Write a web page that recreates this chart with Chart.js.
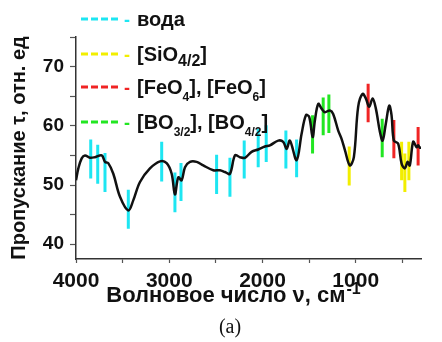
<!DOCTYPE html>
<html>
<head>
<meta charset="utf-8">
<script src="https://cdn.jsdelivr.net/npm/chart.js@4/dist/chart.umd.min.js"></script>
<style>
    html, body { margin: 0; padding: 0; background: #fff; }
    canvas { display: block; }
</style>
</head>
<body>
<canvas id="myChart" width="442" height="342"></canvas>
<script>
// IR transmission spectrum
const wavenumber = [4000, 3975, 3939, 3904, 3850, 3796, 3724, 3689, 3654, 3600, 3528, 3439, 3386, 3314, 3207, 3099,
    3028, 2974, 2939, 2903, 2867, 2831, 2778, 2706, 2635, 2528, 2456, 2403, 2349, 2295, 2242, 2188, 2117, 2046, 1974,
    1920, 1831, 1778, 1741, 1706, 1634, 1580, 1534, 1499, 1462, 1438, 1402, 1366, 1331, 1277, 1242, 1188, 1152, 1116,
    1063, 1020, 974, 927, 891, 856, 819, 784, 741, 712, 677, 641, 616, 591, 545, 508, 473, 444, 420, 384, 348, 331, 312, 300]
const transmission = [50.8, 52.8, 54.5, 55.0, 54.6, 54.7, 55.0, 53.9, 53.7, 51.9, 48.0, 45.7, 47.4, 50.5, 52.8, 54.0,
    53.7, 51.9, 48.4, 51.3, 50.8, 53.0, 53.9, 53.9, 53.3, 52.5, 52.5, 52.2, 51.9, 55.0, 54.7, 54.6, 55.6, 56.0, 56.5,
    56.7, 57.5, 57.3, 56.1, 57.5, 54.2, 58.7, 61.8, 61.5, 58.1, 60.9, 63.7, 62.9, 62.3, 62.6, 62.0, 59.2, 57.8, 55.9,
    53.3, 54.7, 63.2, 65.4, 64.6, 63.2, 64.6, 62.9, 59.0, 57.5, 60.4, 63.4, 61.8, 57.5, 57.0, 53.6, 52.8, 53.9, 53.3,
    57.3, 56.4, 56.7, 56.3, 56.3]

// band markers: [wavenumber, lower end, upper end]
const waterBands = [[3842, 51.1, 57.7], [3767, 50.2, 56.8], [3689, 48.8, 55.4], [3439, 42.6, 49.2], [3081, 50.6, 57.3],
    [2939, 45.4, 52.1], [2874, 47.3, 53.7], [2492, 48.5, 55.1], [2349, 48.0, 54.6], [2196, 51.1, 57.5],
    [2046, 53.0, 59.5], [1960, 53.9, 60.1], [1749, 52.8, 59.2], [1634, 51.3, 57.7]]
const silicaBands = [[1070, 49.9, 56.5], [508, 50.8, 57.3], [473, 48.8, 55.3], [430, 50.8, 57.3]]
const ironBands = [[867, 60.6, 67.1], [591, 54.5, 61.0], [331, 53.3, 59.8]]
const boronBands = [[1463, 55.3, 61.8], [1349, 58.4, 64.8], [1288, 58.8, 65.3], [716, 54.7, 61.2]]

// tick marks; only the labelled ones get text
const xTickValues = [500, 1000, 1500, 2000, 2500, 3000, 3500, 4000]
const xTickLabels = [1000, 2000, 3000, 4000]
const yTickValues = [40, 45, 50, 55, 60, 65, 70, 75]
const yTickLabels = [40, 50, 60, 70]

const xTitle = 'Волновое число ν, см'
const xTitleSup = '-1'
const yTitle = 'Пропускание τ, отн. ед'
const caption = '(a)'

// legend rows: colour, then text pieces (plain or subscript with its scale)
const legendRows = [
    ['#1ee6f2', [['вода']]],
    ['#f2ee00', [['[SiO'], ['4/2', 0.8], [']']]],
    ['#f02424', [['[FeO'], ['4', 0.6], ['], [FeO'], ['6', 0.6], [']']]],
    ['#22e622', [['[BO'], ['3/2', 0.6], ['], [BO'], ['4/2', 0.6], [']']]],
]

const FONT = '"Liberation Sans", Arial, sans-serif'

function markerPoints(bands) {
    return bands.flatMap(([x, lo, hi]) => [{x, y: hi}, {x, y: lo}, {x, y: null}])
}

function markerSet(bands, color) {
    return {
        data: markerPoints(bands),
        borderColor: color,
        borderWidth: 3,
        pointRadius: 0,
        tension: 0,
        spanGaps: false,
    }
}

const textPlugin = {
    id: 'spectrumText',
    afterDraw(chart) {
        const ctx = chart.ctx
        ctx.save()
        ctx.textBaseline = 'alphabetic'
        ctx.textAlign = 'left'

        // legend
        const rowY = [19, 54, 87, 122]
        const size = 20
        legendRows.forEach(([color, parts], i) => {
            const y = rowY[i]
            ctx.strokeStyle = color
            ctx.lineWidth = 3
            ctx.setLineDash([7, 3])
            ctx.beginPath()
            ctx.moveTo(81, y)
            ctx.lineTo(118, y)
            ctx.stroke()
            ctx.setLineDash([])

            ctx.fillStyle = color
            ctx.font = `bold 18px ${FONT}`
            ctx.fillText('-', 124, y + 6.5)

            ctx.fillStyle = '#111'
            let x = 137
            for (const [text, sub] of parts) {
                ctx.font = `bold ${sub ? size * sub : size}px ${FONT}`
                ctx.fillText(text, x, y + 7 + (sub ? 3 + 10 * (1 - sub) : 0))
                x += ctx.measureText(text).width
            }
        })

        // x axis title with superscript
        ctx.fillStyle = '#111'
        ctx.font = `bold 22px ${FONT}`
        const w1 = ctx.measureText(xTitle).width
        ctx.font = `bold 16px ${FONT}`
        const w2 = ctx.measureText(xTitleSup).width
        const x = 233 - (w1 + w2) / 2
        ctx.font = `bold 22px ${FONT}`
        ctx.fillText(xTitle, x, 302)
        ctx.font = `bold 16px ${FONT}`
        ctx.fillText(xTitleSup, x + w1 + 1, 294)

        ctx.font = `20px "Liberation Serif", "Times New Roman", serif`
        ctx.textAlign = 'center'
        ctx.fillText(caption, 230, 333)
        ctx.restore()
    }
}

const ctx = document.getElementById('myChart').getContext('2d')
window.myChart = new Chart(ctx, {
    type: 'line',
    data: {
        datasets: [
            {
                data: wavenumber.map((x, i) => ({x, y: transmission[i]})),
                borderColor: '#111',
                borderWidth: 2.5,
                pointRadius: 0,
                tension: 0.35,
            },
            markerSet(waterBands, '#1ee6f2'),
            markerSet(silicaBands, '#f2ee00'),
            markerSet(ironBands, '#f02424'),
            markerSet(boronBands, '#22e622'),
        ]
    },
    options: {
        responsive: false,
        animation: false,
        layout: {padding: {left: 0, top: 37, right: 21, bottom: 0}},
        plugins: {legend: {display: false}, tooltip: {enabled: false}},
        scales: {
            x: {
                type: 'linear',
                reverse: true,
                min: 300,
                max: 4000,
                border: {color: '#333', width: 1.5},
                grid: {drawOnChartArea: false, tickLength: 4, tickColor: '#555', tickWidth: 1.2},
                afterBuildTicks: scale => { scale.ticks = xTickValues.map(value => ({value})) },
                ticks: {
                    autoSkip: false,
                    maxRotation: 0,
                    padding: 6,
                    color: '#111',
                    font: {family: FONT, size: 21, weight: 'bold'},
                    callback: v => xTickLabels.includes(v) ? String(v) : '',
                },
                afterFit: scale => { scale.height = 83 },
            },
            y: {
                min: 37.5,
                max: 75,
                border: {color: '#333', width: 1.5},
                grid: {drawOnChartArea: false, tickLength: 6, tickColor: '#555', tickWidth: 1.2},
                afterBuildTicks: scale => { scale.ticks = yTickValues.map(value => ({value})) },
                ticks: {
                    autoSkip: false,
                    padding: 6,
                    color: '#111',
                    font: {family: FONT, size: 19, weight: 'bold'},
                    callback: v => yTickLabels.includes(v) ? String(v) : '',
                },
                title: {
                    display: true,
                    text: yTitle,
                    color: '#111',
                    font: {family: FONT, size: 20, weight: 'bold'},
                    padding: {top: 7, bottom: 0},
                },
                afterFit: scale => { scale.width = 76 },
            }
        }
    },
    plugins: [textPlugin]
})
</script>
</body>
</html>
